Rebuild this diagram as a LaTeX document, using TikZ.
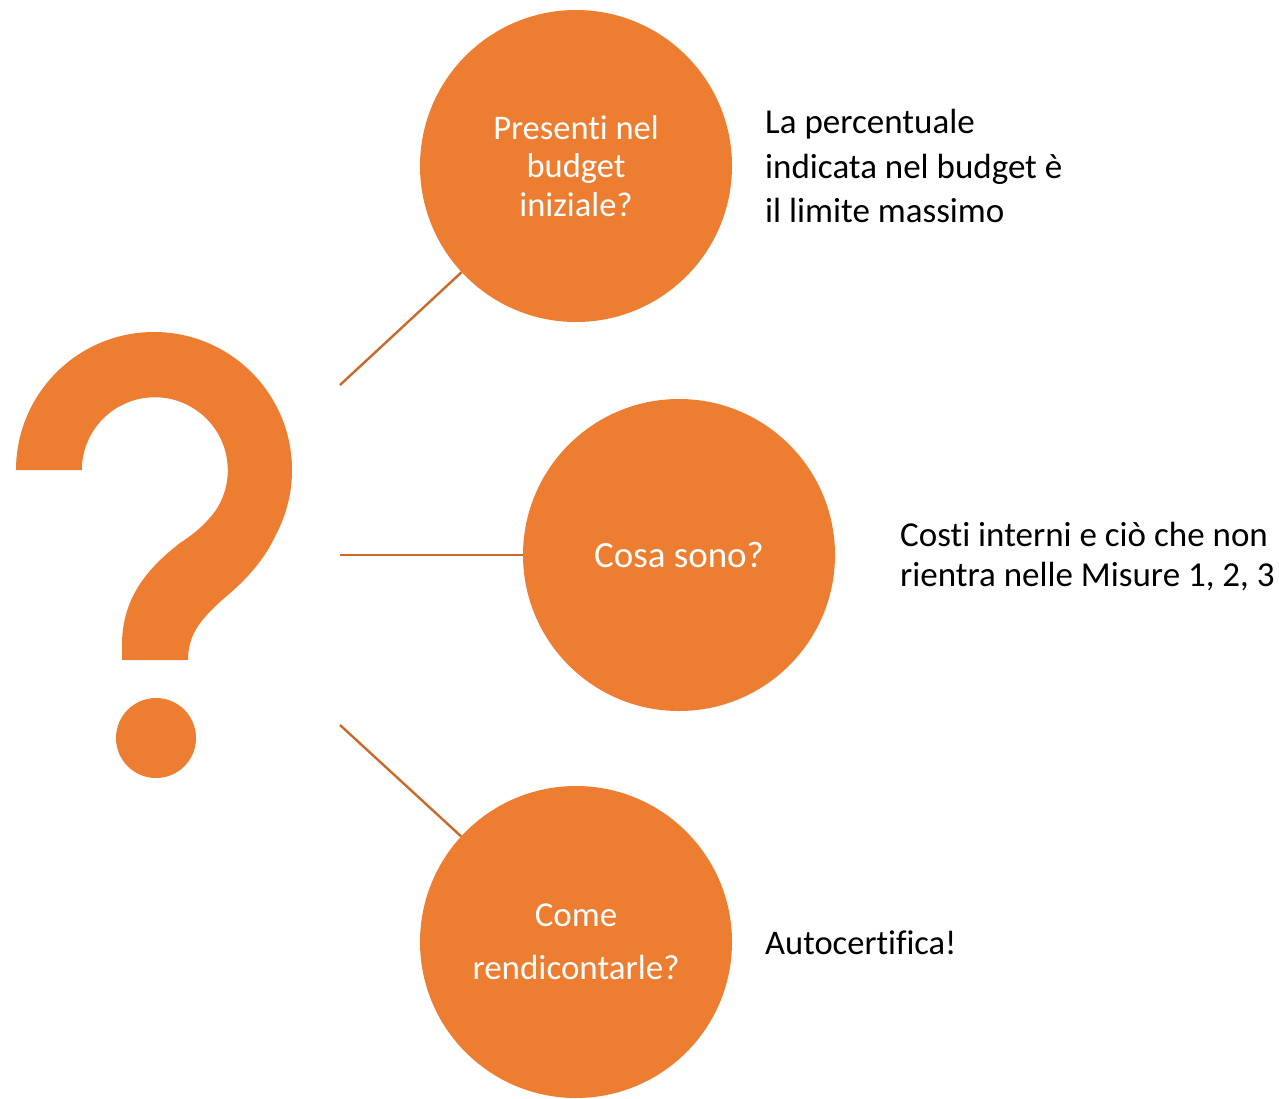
\documentclass[tikz,border=0pt]{standalone}
\usepackage{fontspec}
\setmainfont{Carlito}[Ligatures=CommonOff]
\definecolor{qorange}{HTML}{ED7D31}
\definecolor{qline}{HTML}{C96A2C}
\begin{document}
\begin{tikzpicture}[x=1pt,y=-1pt,
  bubble/.style={circle,fill=qorange,draw=none,minimum size=312pt,inner sep=0pt},
  intext/.style={text=white,align=center,font=\fontsize{34.5}{38.5}\selectfont},
  outtext/.style={text=black,align=left,anchor=west,inner sep=0pt},
  link/.style={draw=qline,line width=2.4pt}]
\useasboundingbox (0,0) rectangle (1279,1098);
% question mark
\fill[qorange] (16,470) arc[start angle=180,end angle=388,radius=138]
  .. controls (262,565) and (240,585) .. (222,600)
  .. controls (200,620) and (188,635) .. (188,660)
  -- (122,660) -- (122,645)
  .. controls (122,600) and (145,570) .. (180,543)
  .. controls (195,533) and (205,525) .. (216,510)
  arc[start angle=33,end angle=-180,radius=73] -- cycle;
\fill[qorange] (156,738) circle[radius=40];
% bubbles
\node[bubble] (c1) at (576,166) {};
\node[bubble] (c2) at (679,555) {};
\node[bubble] (c3) at (576,942) {};
\node[intext] (t1) at (576,166) {Presenti nel\\budget\\iniziale?};
\node[intext,font=\fontsize{37}{40}\selectfont] (t2) at (679,555) {Cosa sono?};
\node[intext,font=\fontsize{35}{53}\selectfont] (t3) at (576,942) {Come\\rendicontarle?};
% side texts
\node[outtext,font=\fontsize{35}{44.5}\selectfont] (r1) at (765,166) {La percentuale\\indicata nel budget è\\il limite massimo};
\node[outtext,font=\fontsize{35}{40}\selectfont] (r2) at (900,557) {Costi interni e ciò che non\\rientra nelle Misure 1, 2, 3};
\node[outtext,font=\fontsize{34.5}{40}\selectfont] (r3) at (765,943) {Autocertifica!};
% connectors
\coordinate (s1) at (340,385);
\coordinate (s2) at (340,555);
\coordinate (s3) at (340,725);
\draw[link] (s1) -- (c1);
\draw[link] (s2) -- (c2);
\draw[link] (s3) -- (c3);
\end{tikzpicture}
\end{document}
